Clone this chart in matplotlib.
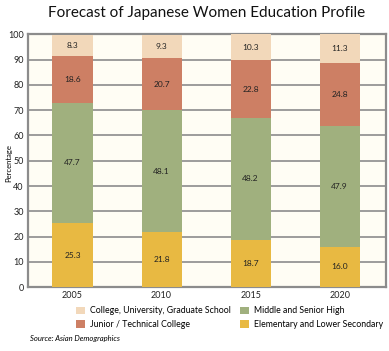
import numpy as np
import matplotlib.pyplot as plt

years = ["2005", "2010", "2015", "2020"]
elementary = [25.3, 21.8, 18.7, 16.0]
middle = [47.7, 48.1, 48.2, 47.9]
junior = [18.6, 20.7, 22.8, 24.8]
college = [8.3, 9.3, 10.3, 11.3]

names = ["Elementary and Lower Secondary", "Middle and Senior High",
         "Junior / Technical College", "College, University, Graduate School"]
colors = ["#E8B942", "#A0B07E", "#CD7F64", "#F2D8BA"]

plt.rcParams['font.family'] = ['Lato', 'DejaVu Sans']

fig = plt.figure(figsize=(3.89, 3.51), dpi=100)
ax = fig.add_axes([0.072, 0.182, 0.92, 0.72])
ax.set_facecolor("#FFFDF4")

x = np.arange(len(years))
bottom = np.zeros(len(years))
bars = {}
for vals, name, c in zip([elementary, middle, junior, college], names, colors):
    b = ax.bar(x, vals, width=0.45, bottom=bottom, color=c, label=name, zorder=3)
    bars[name] = b
    for xi, v, b0 in zip(x, vals, bottom):
        ax.text(xi, b0 + v / 2, f"{v:.1f}", ha="center", va="center", fontsize=6, color="#222222", zorder=4)
    bottom += np.array(vals)

ax.set_xlim(-0.5, 3.52)
ax.set_ylim(0, 100)
ax.set_yticks(range(0, 101, 10))
ax.set_xticks(x)
ax.set_xticklabels(years)
ax.tick_params(axis="both", length=0, labelsize=6.5, colors="#222222", pad=3)
ax.yaxis.grid(True, color="#8C8C8C", lw=1.2, zorder=1)
for s in ax.spines.values():
    s.set_color("#8C8C8C")
    s.set_linewidth(1.6)

fig.text(0.022, 0.535, "Percentage", rotation=90, ha="center", va="center", fontsize=5.5)

fig.text(0.53, 0.963, "Forecast of Japanese Women Education Profile", ha="center", va="center",
         fontsize=11, color="#111111")

order = [names[3], names[2], names[1], names[0]]
handles = [bars[n] for n in order]
fig.legend(handles, order, loc="center", bbox_to_anchor=(0.59, 0.095), ncol=2, frameon=False,
           fontsize=6.3, handlelength=1.0, handleheight=1.0, columnspacing=1.0, labelspacing=0.5,
           handletextpad=0.6)

fig.text(0.078, 0.028, "Source: Asian Demographics", fontsize=5.5, style="italic")

fig.savefig("out.png", dpi=100)
